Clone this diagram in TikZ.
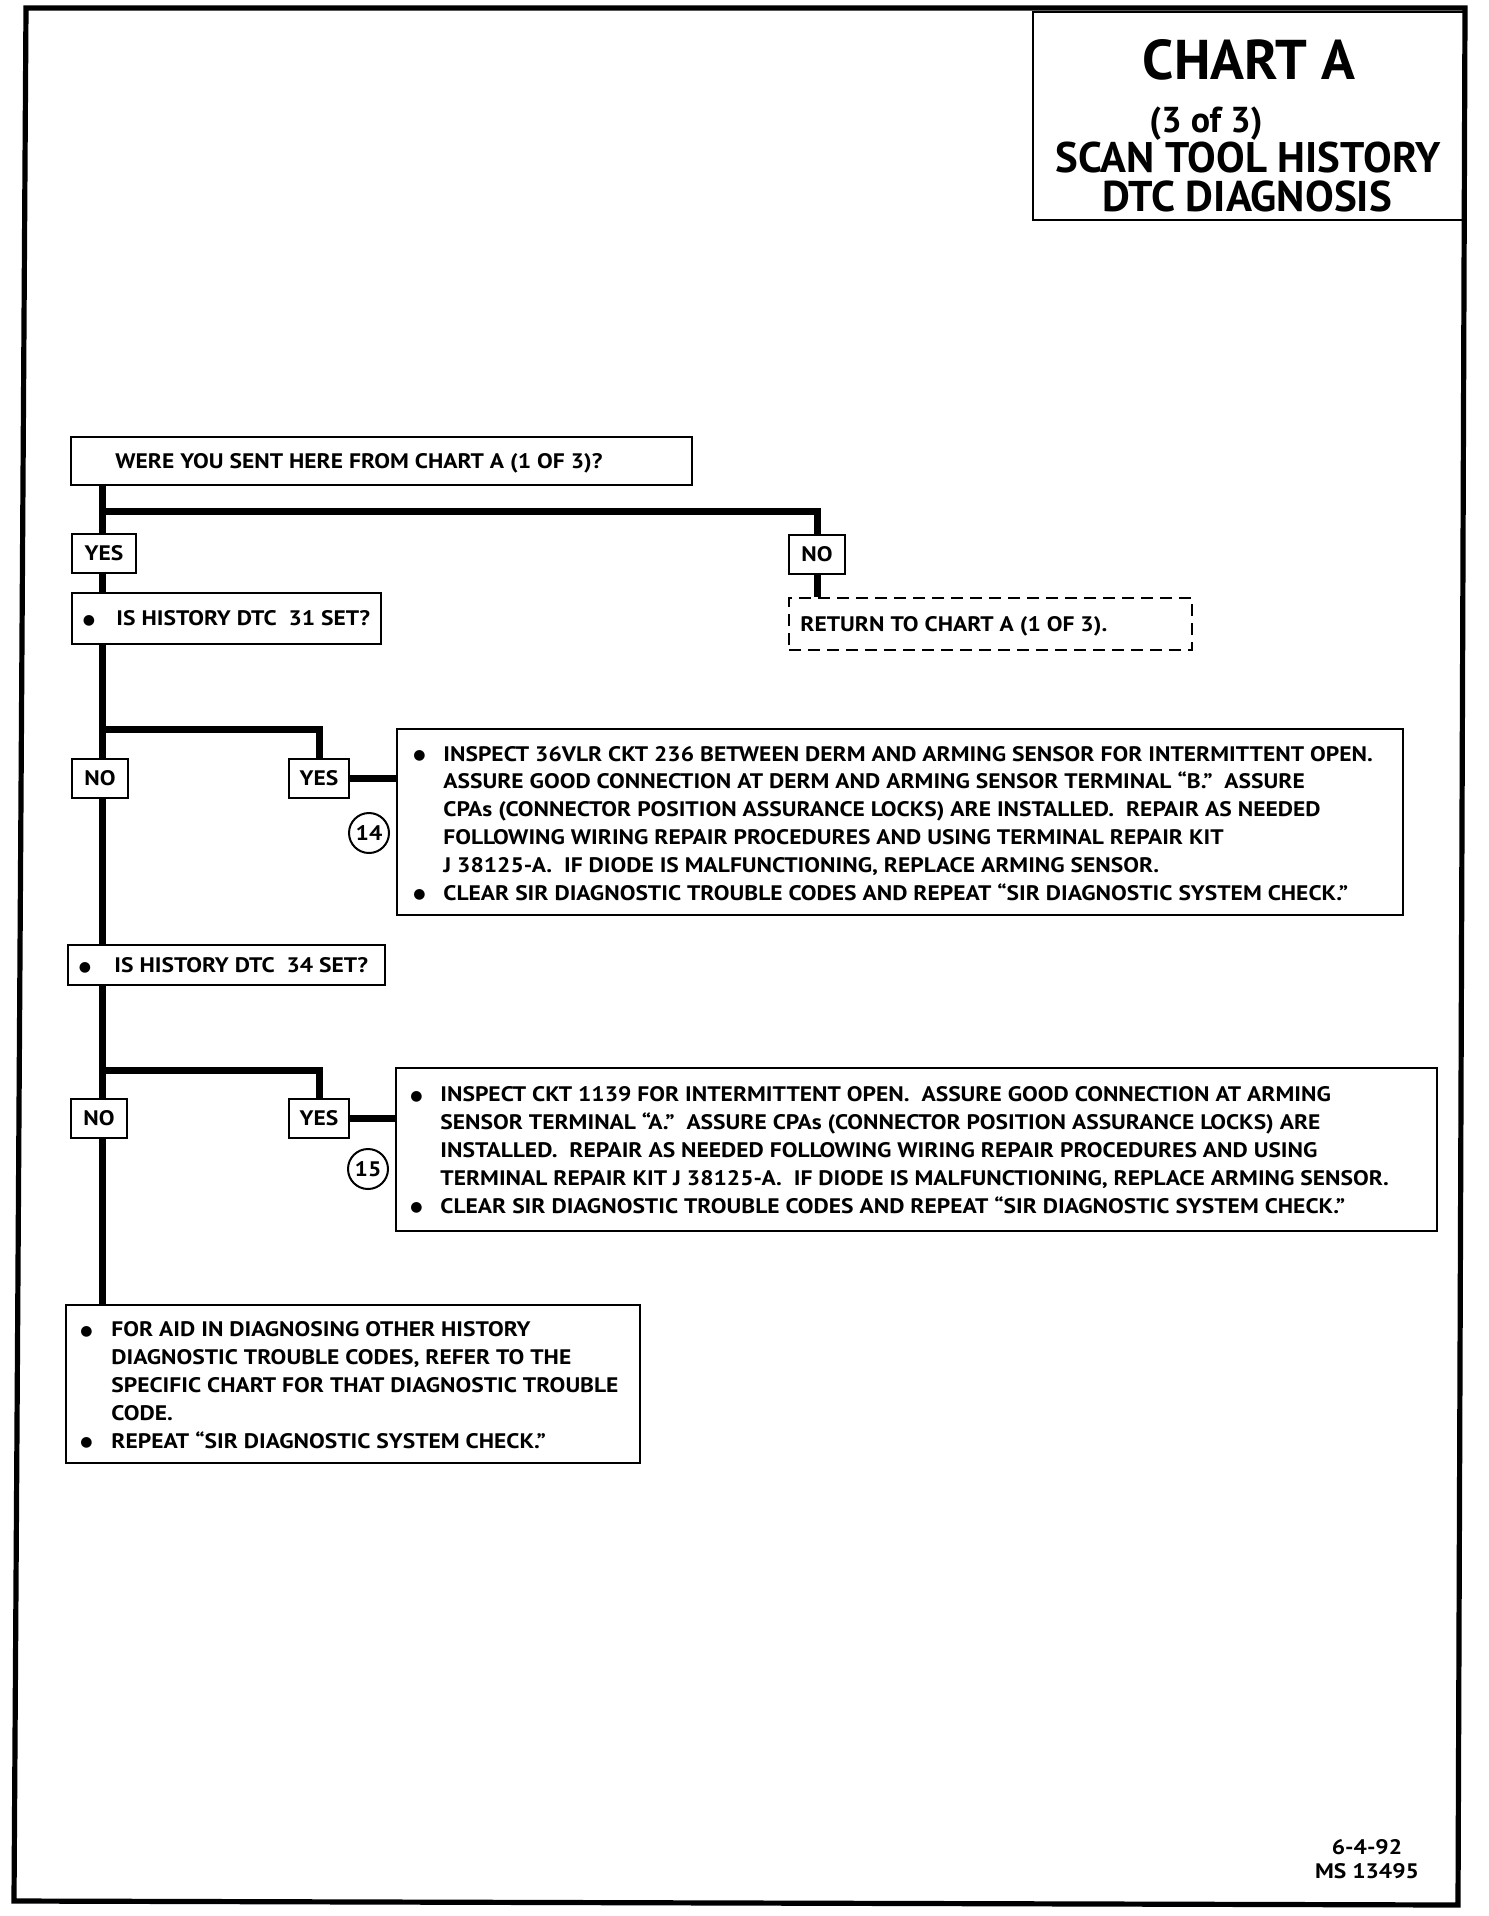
\documentclass[tikz,border=0pt]{standalone}
\usepackage{fontspec}
\setmainfont{PT Sans}
\newfontfamily\bodyfont{PT Sans}[FakeStretch=1.12]
\newfontfamily\dotfont{DejaVu Sans}
\usetikzlibrary{fit}
\newcommand\ft{\bodyfont\fontsize{10.5pt}{13.9pt}\selectfont\bfseries}
\newcommand\bul{{\dotfont\fontsize{7pt}{7pt}\selectfont\raisebox{0.6pt}{●}}}
\begin{document}
\begin{tikzpicture}[x=0.5pt,y=-0.5pt,
  bx/.style={draw, line width=1pt, inner sep=0pt, fit={#1}},
  dbx/.style={draw, line width=1pt, inner sep=0pt, dash pattern=on 6pt off 3.5pt, fit={#1}},
  lbl/.style={inner sep=0pt, font=\ft, text height=7.3pt, text depth=0pt},
  yn/.style={draw, line width=1pt, inner sep=0pt, font=\ft, text height=7.3pt, text depth=0pt, minimum width=#1, minimum height=19.5pt},
  multi/.style={inner sep=0pt, font=\ft, anchor=west},
  conn/.style={line width=3.5pt},
  num/.style={draw, circle, line width=1pt, minimum size=20pt, inner sep=0pt, font=\ft},
  ttl/.style={anchor=base, inner sep=0pt, font=\fontsize{#1}{#1}\selectfont\bfseries}
]
\useasboundingbox (0,0) rectangle (1488,1916);
% page frame
\draw[line width=2.6pt] (26,8) -- (1465,8) -- (1458,1905) -- (14,1901) -- cycle;
% title
\node[bx={(1033,12)(1465,220)}] (title) {};
\node[ttl=28pt] (tA) at (1249,80) {CHART A};
\node[ttl=18pt] (tB) at (1206,133) {(3 of 3)};
\node[ttl=21.4pt] (tC) at (1248,172) {SCAN TOOL HISTORY};
\node[ttl=21.5pt] (tD) at (1247,211) {DTC DIAGNOSIS};

% first question
\node[bx={(71,437)(692,485)}] (q1) {};
\node[lbl, anchor=west] (q1t) at (115,461) {WERE YOU SENT HERE FROM CHART A (1 OF 3)?};
\coordinate (m) at (102,0);
\coordinate (j1) at (102,511);
\node[yn=32pt] (yes1) at (104,553) {YES};
\node[yn=28pt] (no1) at (817,554) {NO};
\node[dbx={(789,598)(1192,650)}] (ret) {};
\node[lbl, anchor=west] (rett) at (800,624) {RETURN TO CHART A (1 OF 3).};
\node[bx={(72,593)(381,644)}] (q2) {};
\node[lbl, anchor=center] (q2b) at (89,618.5) {\bul};
\node[lbl, anchor=west] (q2t) at (116,618.5) {IS HISTORY DTC~ 31 SET?};

\draw[conn] (m |- q1.south) -- (j1) -| (no1.north);
\draw[conn] (j1) -- (m |- yes1.north);
\draw[conn] (no1.south) -- (no1.south |- ret.north);
\draw[conn] (m |- yes1.south) -- (m |- q2.north);

% DTC 31 branch
\coordinate (j2) at (102,729);
\node[yn=28pt] (no2) at (100,778) {NO};
\node[yn=30pt] (yes2) at (319,778) {YES};
\node[bx={(397,729)(1403,915)}] (a14) {};
\node[multi] (a14t) at (413,825) {\begin{tabular}{@{}p{15pt}@{}l@{}}
\bul & INSPECT 36VLR CKT 236 BETWEEN DERM AND ARMING SENSOR FOR INTERMITTENT OPEN.\\
 & ASSURE GOOD CONNECTION AT DERM AND ARMING SENSOR TERMINAL “B.”~ ASSURE\\
 & CPAs (CONNECTOR POSITION ASSURANCE LOCKS) ARE INSTALLED.~ REPAIR AS NEEDED\\
 & FOLLOWING WIRING REPAIR PROCEDURES AND USING TERMINAL REPAIR KIT\\
 & J 38125-A.~ IF DIODE IS MALFUNCTIONING, REPLACE ARMING SENSOR.\\
\bul & CLEAR SIR DIAGNOSTIC TROUBLE CODES AND REPEAT “SIR DIAGNOSTIC SYSTEM CHECK.”
\end{tabular}};
\node[num] (c14) at (369,833) {14};
\node[bx={(68,945)(385,985)}] (q3) {};
\node[lbl, anchor=center] (q3b) at (85,965) {\bul};
\node[lbl, anchor=west] (q3t) at (114,965) {IS HISTORY DTC~ 34 SET?};

\draw[conn] (m |- q2.south) -- (m |- no2.north);
\draw[conn] (j2) -| (yes2.north);
\draw[conn] (yes2.east) -- (yes2.east -| a14.west);
\draw[conn] (m |- no2.south) -- (m |- q3.north);

% DTC 34 branch
\coordinate (j3) at (101,1070);
\node[yn=28pt] (no3) at (99,1118) {NO};
\node[yn=30pt] (yes3) at (319,1118) {YES};
\node[bx={(396,1068)(1437,1231)}] (a15) {};
\node[multi] (a15t) at (410,1152) {\begin{tabular}{@{}p{15pt}@{}l@{}}
\bul & INSPECT CKT 1139 FOR INTERMITTENT OPEN.~ ASSURE GOOD CONNECTION AT ARMING\\
 & SENSOR TERMINAL “A.”~ ASSURE CPAs (CONNECTOR POSITION ASSURANCE LOCKS) ARE\\
 & INSTALLED.~ REPAIR AS NEEDED FOLLOWING WIRING REPAIR PROCEDURES AND USING\\
 & TERMINAL REPAIR KIT J 38125-A.~ IF DIODE IS MALFUNCTIONING, REPLACE ARMING SENSOR.\\
\bul & CLEAR SIR DIAGNOSTIC TROUBLE CODES AND REPEAT “SIR DIAGNOSTIC SYSTEM CHECK.”
\end{tabular}};
\node[num] (c15) at (368,1169) {15};
\node[bx={(66,1305)(640,1463)}] (fin) {};
\node[multi] (fint) at (80,1387) {\begin{tabular}{@{}p{15.5pt}@{}l@{}}
\bul & FOR AID IN DIAGNOSING OTHER HISTORY\\
 & DIAGNOSTIC TROUBLE CODES, REFER TO THE\\
 & SPECIFIC CHART FOR THAT DIAGNOSTIC TROUBLE\\
 & CODE.\\
\bul & REPEAT “SIR DIAGNOSTIC SYSTEM CHECK.”
\end{tabular}};

\draw[conn] (m |- q3.south) -- (m |- no3.north);
\draw[conn] (j3) -| (yes3.north);
\draw[conn] (yes3.east) -- (yes3.east -| a15.west);
\draw[conn] (m |- no3.south) -- (m |- fin.north);

% footer
\node[lbl, anchor=center] (f1) at (1367,1847) {6-4-92};
\node[lbl, anchor=center] (f2) at (1367,1871) {MS 13495};
\end{tikzpicture}
\end{document}
